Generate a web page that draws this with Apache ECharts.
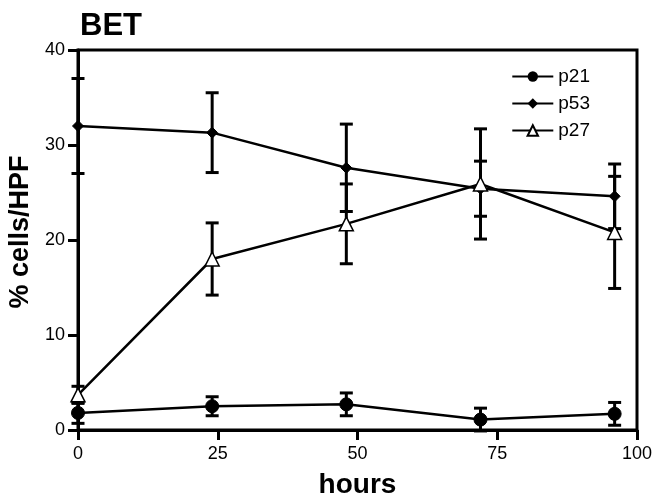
<!DOCTYPE html>
<html><head><meta charset="utf-8">
<script src="https://cdn.jsdelivr.net/npm/echarts@6/dist/echarts.min.js"></script>
<style>html,body{margin:0;padding:0;background:#fff}#c{width:655px;height:500px}</style>
</head><body><div id="c"></div>
<script>
var hours = [0, 24, 48, 72, 96];
var p21 = [1.8, 2.5, 2.7, 1.1, 1.7];
var p21Err = [1.1, 1.0, 1.2, 1.2, 1.2];
var p53 = [32.0, 31.3, 27.6, 25.4, 24.6];
var p53Err = [5.0, 4.2, 4.6, 2.9, 3.4];
var p27 = [3.7, 18.0, 21.7, 25.9, 20.8];
var p27Err = [0.9, 3.8, 4.2, 5.8, 5.9];
var xTicks = [0, 25, 50, 75, 100];
var yTicks = [0, 10, 20, 30, 40];

var FONT = '"Liberation Sans", Arial, sans-serif';
function pts(v) { return hours.map(function (h, i) { return [h, v[i]]; }); }
function errData(v, e) { return hours.map(function (h, i) { return [h, v[i] - e[i], v[i] + e[i]]; }); }
function errSeries(v, e) {
  return {
    type: 'custom', silent: true, z: 1,
    data: errData(v, e),
    renderItem: function (params, api) {
      var lo = api.coord([api.value(0), api.value(1)]);
      var hi = api.coord([api.value(0), api.value(2)]);
      var w = 6.5;
      var st = { stroke: '#000', lineWidth: 3 };
      return { type: 'group', children: [
        { type: 'line', shape: { x1: lo[0], y1: lo[1], x2: hi[0], y2: hi[1] }, style: st },
        { type: 'line', shape: { x1: lo[0] - w, y1: lo[1], x2: lo[0] + w, y2: lo[1] }, style: st },
        { type: 'line', shape: { x1: hi[0] - w, y1: hi[1], x2: hi[0] + w, y2: hi[1] }, style: st }
      ]};
    }
  };
}
var chart = echarts.init(document.getElementById('c'));
chart.setOption({
  animation: false,
  backgroundColor: '#fff',
  title: { text: 'BET', left: 75, top: 6, textStyle: { fontFamily: FONT, fontSize: 31, fontWeight: 'bold', color: '#000' } },
  legend: {
    orient: 'vertical', right: 60, top: 62, itemWidth: 41, itemHeight: 13, itemGap: 8,
    textStyle: { fontFamily: FONT, fontSize: 19, color: '#000' },
    data: ['p21', 'p53', 'p27']
  },
  grid: { left: 78, right: 18, top: 50, bottom: 70, containLabel: false, outerBoundsMode: 'none',
    show: true, borderColor: '#000', borderWidth: 3 },
  xAxis: {
    type: 'value', min: 0, max: 100, interval: 25,
    name: 'hours', nameLocation: 'middle', nameGap: 41,
    nameTextStyle: { fontFamily: FONT, fontSize: 28, fontWeight: 'bold', color: '#000' },
    axisLine: { lineStyle: { color: '#000', width: 3 } },
    axisTick: { show: true, inside: false, length: 10, lineStyle: { color: '#000', width: 3 } },
    axisLabel: { fontFamily: FONT, fontSize: 18, color: '#000', margin: 15,
      formatter: function (v) { return xTicks.indexOf(v) >= 0 ? String(v) : ''; } },
    splitLine: { show: false }
  },
  yAxis: {
    type: 'value', min: 0, max: 40, interval: 10,
    name: '% cells/HPF', nameLocation: 'middle', nameGap: 42,
    nameTextStyle: { fontFamily: FONT, fontSize: 27, fontWeight: 'bold', color: '#000', padding: [0, 0, 0, 16] },
    axisLine: { lineStyle: { color: '#000', width: 3 } },
    axisTick: { show: true, inside: false, length: 10, lineStyle: { color: '#000', width: 3 } },
    axisLabel: { fontFamily: FONT, fontSize: 18, color: '#000', margin: 13,
      formatter: function (v) { return yTicks.indexOf(v) >= 0 ? String(v) : ''; } },
    splitLine: { show: false }
  },
  series: [
    errSeries(p21, p21Err), errSeries(p53, p53Err), errSeries(p27, p27Err),
    { name: 'p21', type: 'line', data: pts(p21), z: 3, symbol: 'circle', symbolSize: 13,
      lineStyle: { color: '#000', width: 2.5 }, itemStyle: { color: '#000', borderColor: '#000' } },
    { name: 'p53', type: 'line', data: pts(p53), z: 3, symbol: 'diamond', symbolSize: 11,
      lineStyle: { color: '#000', width: 2.5 }, itemStyle: { color: '#000', borderColor: '#000' } },
    { name: 'p27', type: 'line', data: pts(p27), z: 4, symbol: 'triangle', symbolSize: 14,
      lineStyle: { color: '#000', width: 2.5 }, itemStyle: { color: '#fff', borderColor: '#000', borderWidth: 1.5 } }
  ]
});
</script></body></html>
